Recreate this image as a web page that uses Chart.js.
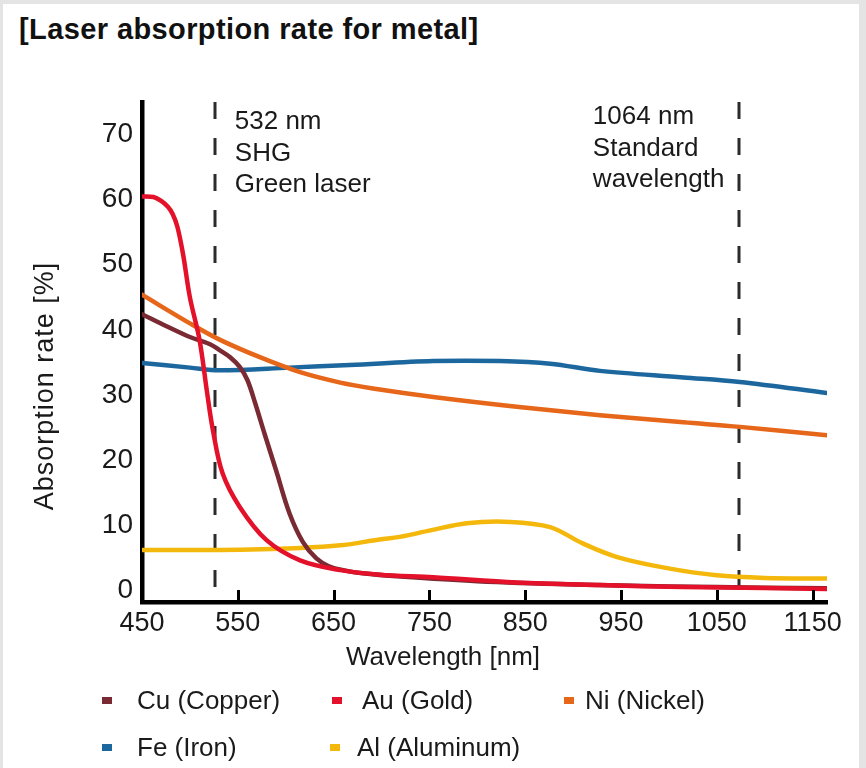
<!DOCTYPE html>
<html>
<head>
<meta charset="utf-8">
<script src="https://cdn.jsdelivr.net/npm/chart.js@4.4.0/dist/chart.umd.min.js"></script>
<style>
  html, body { margin: 0; padding: 0; }
  body { width: 866px; height: 768px; background: #e4e4e4; position: relative; overflow: hidden;
         font-family: 'Liberation Sans', Arial, sans-serif; color: #1a1a1a; }
  #panel { position: absolute; left: 3px; top: 4px; width: 856px; height: 764px; background: #fff; }
  #title { position: absolute; left: 19px; top: 13px; font-weight: bold; font-size: 29px;
           letter-spacing: 0.4px; white-space: nowrap; color: #111; }
  #chart { position: absolute; left: 0; top: 0; }
  .lg-mark { position: absolute; width: 10px; height: 7px; }
  .lg-text { position: absolute; font-size: 26px; line-height: 30px; white-space: nowrap; }
</style>
</head>
<body>
<div id="panel"></div>
<div id="title">[Laser absorption rate for metal]</div>
<canvas id="chart" width="866" height="768"></canvas>
<div id="legend"></div>
<script>
  // wavelength [nm] / absorption rate [%]
  const cuX = [450, 475, 500, 521, 531, 542, 552, 560, 568, 578, 590, 604, 618, 632, 645, 660, 680, 720, 800, 900, 1000, 1100, 1165];
  const cuY = [42.4, 40.6, 38.9, 37.8, 36.9, 35.8, 34.3, 32.3, 28.8, 24.0, 18.4, 11.8, 7.4, 4.9, 3.7, 3.1, 2.6, 2.1, 1.4, 0.9, 0.6, 0.4, 0.3];

  const auX = [450, 462, 470, 477, 482, 487, 493, 500, 510, 518, 524, 534, 552, 580, 615, 657, 698, 754, 841, 928, 1015, 1100, 1165];
  const auY = [60.5, 60.4, 59.8, 58.9, 57.8, 55.8, 51.5, 45.0, 38.5, 30.3, 24.6, 18.0, 12.8, 7.7, 4.6, 3.1, 2.4, 2.0, 1.2, 0.8, 0.5, 0.35, 0.2];

  const niX = [450, 500, 531, 573, 615, 657, 691, 754, 841, 928, 1015, 1074, 1165];
  const niY = [45.4, 41.0, 38.5, 35.8, 33.5, 31.9, 31.0, 29.7, 28.2, 26.9, 25.8, 25.1, 23.8];

  const feX = [450, 500, 531, 604, 667, 754, 824, 876, 928, 1015, 1074, 1165];
  const feY = [34.9, 34.2, 33.8, 34.2, 34.6, 35.2, 35.2, 34.8, 33.7, 32.7, 32.0, 30.3];

  const alX = [450, 531, 615, 657, 698, 719, 751, 789, 834, 876, 910, 946, 998, 1050, 1100, 1165];
  const alY = [6.2, 6.2, 6.5, 6.9, 7.8, 8.2, 9.2, 10.3, 10.5, 9.7, 7.2, 5.1, 3.4, 2.3, 1.9, 1.8];

  const xTicks = [450, 550, 650, 750, 850, 950, 1050, 1150];
  const yTicks = [0, 10, 20, 30, 40, 50, 60, 70];

  // dashed reference lines and their notes
  const markerX = [526, 1073];
  const markerNotes = [["532 nm", "SHG", "Green laser"], ["1064 nm", "Standard", "wavelength"]];

  const seriesNames = ["Cu (Copper)", "Au (Gold)", "Ni (Nickel)", "Fe (Iron)", "Al (Aluminum)"];
  const seriesColors = ["#7a2a32", "#e3112a", "#e6661a", "#1c679e", "#f4b80c"];

  const txt = "#1a1a1a";
  const family = "'Liberation Sans', Arial, sans-serif";

  function pts(xs, ys) {
    return xs.map((x, i) => ({ x: x, y: ys[i] }));
  }

  // legend (html), laid out like the picture
  const legendPos = [[102, 137, 700], [332, 362, 700], [564, 585, 700], [102, 137, 747], [330, 357, 747]];
  const legend = document.getElementById("legend");
  seriesNames.forEach((name, i) => {
    const p = legendPos[i];
    const m = document.createElement("div");
    m.className = "lg-mark";
    m.style.left = p[0] + "px";
    m.style.top = (p[2] - 3) + "px";
    m.style.background = seriesColors[i];
    legend.appendChild(m);
    const t = document.createElement("div");
    t.className = "lg-text";
    t.style.left = p[1] + "px";
    t.style.top = (p[2] - 15) + "px";
    t.textContent = name;
    legend.appendChild(t);
  });

  const overlay = {
    id: "overlay",
    beforeDatasetsDraw(chart) {
      const { ctx, chartArea, scales } = chart;
      ctx.save();
      ctx.strokeStyle = "#2b2b2b";
      ctx.lineWidth = 3;
      ctx.setLineDash([17, 19]);
      markerX.forEach(v => {
        const px = Math.round(scales.x.getPixelForValue(v));
        ctx.beginPath();
        ctx.moveTo(px, chartArea.top);
        ctx.lineTo(px, chartArea.bottom - 6);
        ctx.stroke();
      });
      ctx.restore();
    },
    afterDraw(chart) {
      const { ctx, chartArea, scales } = chart;
      ctx.save();
      // small inside tick marks on the x axis
      ctx.fillStyle = "#000";
      xTicks.slice(1).forEach(v => {
        const px = Math.round(scales.x.getPixelForValue(v));
        ctx.fillRect(px - 1, chartArea.bottom - 12, 3, 10);
      });

      ctx.fillStyle = txt;
      ctx.font = "26px " + family;
      ctx.textBaseline = "middle";
      ctx.textAlign = "left";
      const p0 = scales.x.getPixelForValue(markerX[0]);
      markerNotes[0].forEach((s, i) => ctx.fillText(s, p0 + 20, chartArea.top + 20 + i * 31.5));
      const p1 = scales.x.getPixelForValue(markerX[1]);
      markerNotes[1].forEach((s, i) => ctx.fillText(s, p1 - 146, chartArea.top + 15 + i * 31.5));

      // axis titles
      ctx.textAlign = "center";
      ctx.fillText("Wavelength [nm]", 443, 658);
      ctx.translate(46, 386);
      ctx.rotate(-Math.PI / 2);
      ctx.font = "27px " + family;
      ctx.letterSpacing = "1px";
      ctx.fillText("Absorption rate [%]", 0, 0);
      ctx.restore();
    }
  };

  const ds = (i, xs, ys) => ({
    label: seriesNames[i],
    data: pts(xs, ys),
    borderColor: seriesColors[i],
    backgroundColor: seriesColors[i],
    borderWidth: 4.5,
    pointRadius: 0,
    fill: false,
    tension: 0.35,
    borderCapStyle: "round",
    borderJoinStyle: "round"
  });

  new Chart(document.getElementById("chart"), {
    type: "line",
    data: {
      // first dataset ends up on top
      datasets: [
        ds(1, auX, auY),
        ds(0, cuX, cuY),
        ds(4, alX, alY),
        ds(2, niX, niY),
        ds(3, feX, feY)
      ]
    },
    options: {
      responsive: false,
      animation: false,
      devicePixelRatio: 1,
      layout: { padding: { left: 0, right: 39, top: 102, bottom: 86 } },
      plugins: { legend: { display: false }, tooltip: { enabled: false } },
      scales: {
        x: {
          type: "linear",
          min: 450,
          max: 1165,
          grid: { display: false, drawTicks: false },
          border: { color: "#000", width: 4.5 },
          afterBuildTicks: s => { s.ticks = xTicks.map(v => ({ value: v })); },
          afterFit: s => { s.height = 80; },
          ticks: { color: txt, padding: 5, maxRotation: 0, autoSkip: false,
                   callback: v => String(v),
                   font: { family: family, size: 27 } }
        },
        y: {
          min: -1.8,
          max: 75,
          grid: { display: false, drawTicks: false },
          border: { color: "#000", width: 4.5 },
          afterBuildTicks: s => { s.ticks = yTicks.map(v => ({ value: v })); },
          afterFit: s => { s.width = 142; },
          ticks: { color: txt, padding: 9, callback: v => String(v),
                   font: { family: family, size: 28 } }
        }
      }
    },
    plugins: [overlay]
  });
</script>
</body>
</html>
